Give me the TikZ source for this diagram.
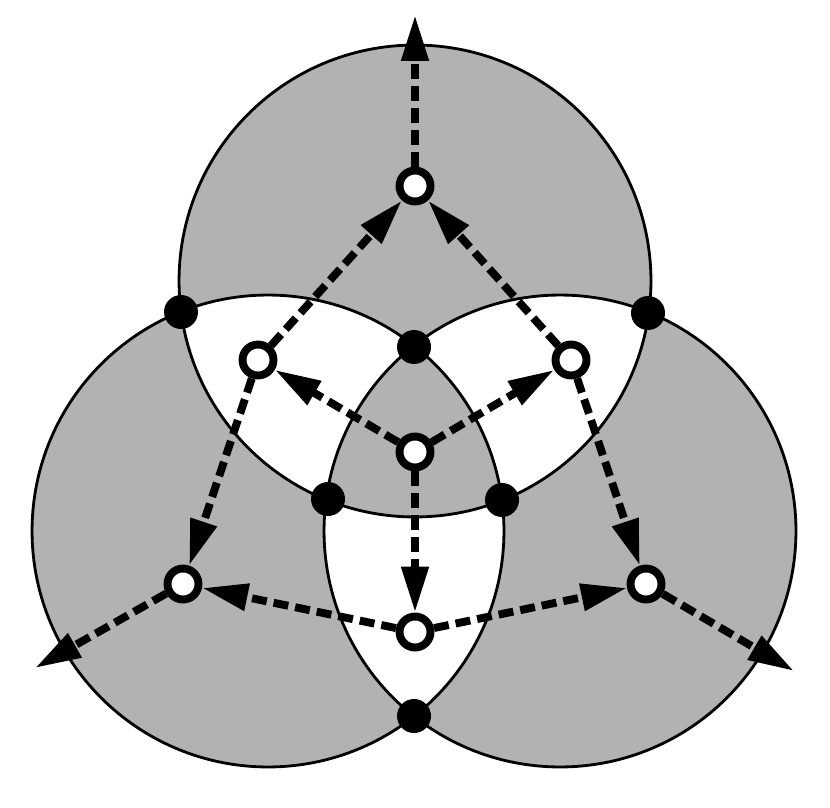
\documentclass[tikz,border=0pt]{standalone}
\usetikzlibrary{arrows.meta}
\begin{document}
\begin{tikzpicture}[x=0.02cm,y=-0.02cm,
greyzone/.style={fill=black!30,even odd rule},
ring/.style={line width=1.6pt},
meetdot/.style={circle,fill=black,inner sep=0pt,minimum size=0.68cm},
region/.style={circle,draw=black,fill=white,line width=4.5pt,inner sep=0pt,minimum size=0.62cm},
flowarrow/.style={line width=4.5pt,dash pattern=on 0.3cm off 0.14cm,-{Triangle[length=0.92cm,width=0.52cm]}}]

\useasboundingbox (0,0) rectangle (830,807);

\fill[greyzone] (415,281) circle (4.72cm) (268,531) circle (4.72cm) (560,531) circle (4.72cm);
\begin{scope}[ring]
    \draw (415,281) circle (4.72cm);
    \draw (268,531) circle (4.72cm);
    \draw (560,531) circle (4.72cm);
\end{scope}

% crossing points of the circles
\node[meetdot] (tlout) at (181,312) {};
\node[meetdot] (tlin) at (502,500) {};
\node[meetdot] (trout) at (648,313) {};
\node[meetdot] (trin) at (328,499) {};
\node[meetdot] (lrin) at (414,347) {};
\node[meetdot] (lrout) at (414,716) {};

% one point for each region
\node[region] (mid) at (415,452) {};
\node[region] (tl) at (258,360) {};
\node[region] (tr) at (571,360) {};
\node[region] (lr) at (415,632) {};
\node[region] (t) at (415,186) {};
\node[region] (l) at (183,584) {};
\node[region] (r) at (646,584) {};

\coordinate (tend) at (415,15);
\coordinate (lend) at (35,668);
\coordinate (rend) at (794,671);

\draw[flowarrow] (mid) -- (tl);
\draw[flowarrow] (mid) -- (tr);
\draw[flowarrow] (mid) -- (lr);
\draw[flowarrow] (tl) -- (t);
\draw[flowarrow] (tr) -- (t);
\draw[flowarrow] (tl) -- (l);
\draw[flowarrow] (tr) -- (r);
\draw[flowarrow] (lr) -- (l);
\draw[flowarrow] (lr) -- (r);
\draw[flowarrow] (t) -- (tend);
\draw[flowarrow] (l) -- (lend);
\draw[flowarrow] (r) -- (rend);

\end{tikzpicture}
\end{document}
